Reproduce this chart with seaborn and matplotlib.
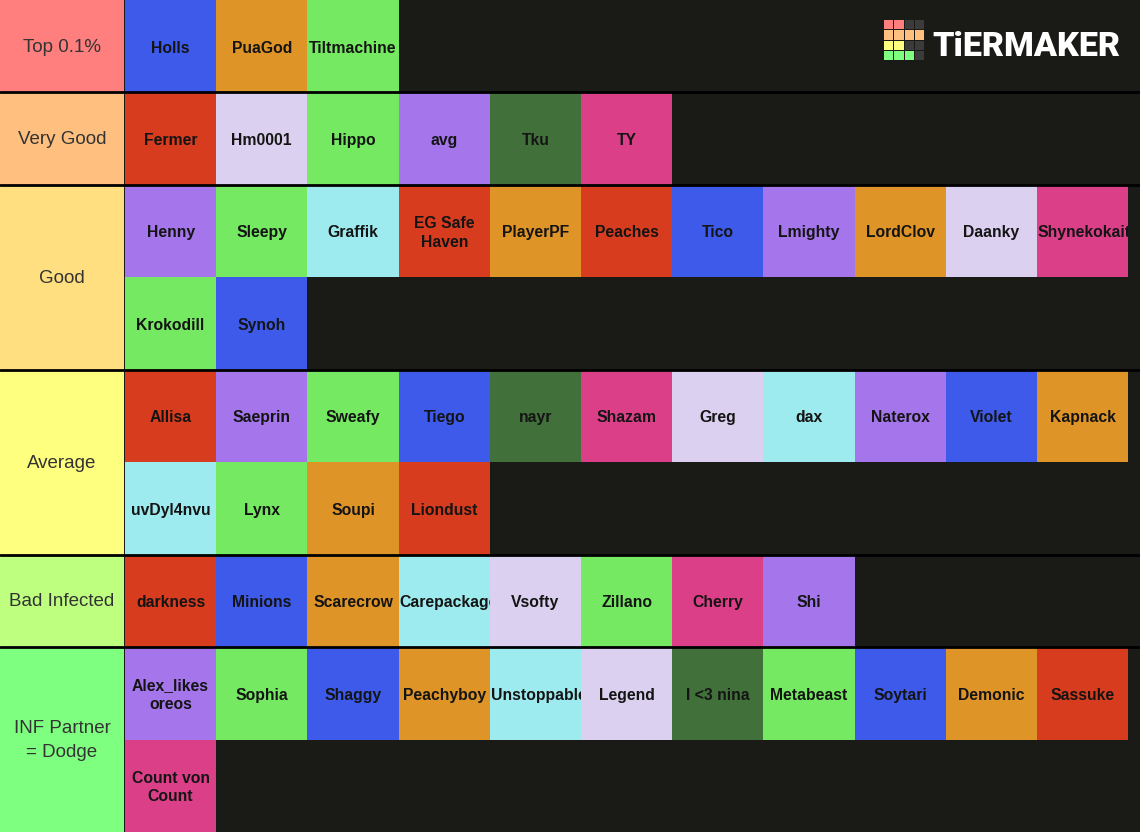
import numpy as np
import matplotlib
matplotlib.use('Agg')
import matplotlib.pyplot as plt
from matplotlib.colors import ListedColormap
from matplotlib.patches import Rectangle
import seaborn as sns

# Tiers
tiers = ['Top 0.1%', 'Very Good', 'Good', 'Average', 'Bad Infected', 'INF Partner\n= Dodge']
tier_colors = ['#ff7f7f', '#ffbf7f', '#ffdf7f', '#ffff7f', '#bfff7f', '#7fff7f']
tier_rows = [1, 1, 2, 2, 1, 2]

# Item colours
palette = {
    'blue': '#3d5aea', 'orange': '#df9428', 'green': '#74e961', 'red': '#d83c1f',
    'lavender': '#dbd0ef', 'purple': '#a475eb', 'darkgreen': '#42703a',
    'pink': '#da3f87', 'cyan': '#9debee',
}

top_names = ['Holls', 'PuaGod', 'Tiltmachine']
top_cols = ['blue', 'orange', 'green']

verygood_names = ['Fermer', 'Hm0001', 'Hippo', 'avg', 'Tku', 'TY']
verygood_cols = ['red', 'lavender', 'green', 'purple', 'darkgreen', 'pink']

good_names = ['Henny', 'Sleepy', 'Graffik', 'EG Safe\nHaven', 'PlayerPF', 'Peaches', 'Tico',
              'Lmighty', 'LordClov', 'Daanky', 'Shynekokait', 'Krokodill', 'Synoh']
good_cols = ['purple', 'green', 'cyan', 'red', 'orange', 'red', 'blue',
             'purple', 'orange', 'lavender', 'pink', 'green', 'blue']

average_names = ['Allisa', 'Saeprin', 'Sweafy', 'Tiego', 'nayr', 'Shazam', 'Greg', 'dax',
                 'Naterox', 'Violet', 'Kapnack', 'uvDyl4nvu', 'Lynx', 'Soupi', 'Liondust']
average_cols = ['red', 'purple', 'green', 'blue', 'darkgreen', 'pink', 'lavender', 'cyan',
                'purple', 'blue', 'orange', 'cyan', 'green', 'orange', 'red']

bad_names = ['darkness', 'Minions', 'Scarecrow', 'Carepackage', 'Vsofty', 'Zillano', 'Cherry', 'Shi']
bad_cols = ['red', 'blue', 'orange', 'cyan', 'lavender', 'green', 'pink', 'purple']

inf_names = ['Alex_likes\noreos', 'Sophia', 'Shaggy', 'Peachyboy', 'Unstoppable', 'Legend',
             'I <3 nina', 'Metabeast', 'Soytari', 'Demonic', 'Sassuke', 'Count von\nCount']
inf_cols = ['purple', 'green', 'blue', 'orange', 'cyan', 'lavender',
            'darkgreen', 'green', 'blue', 'orange', 'red', 'pink']

tier_items = [(top_names, top_cols), (verygood_names, verygood_cols), (good_names, good_cols),
              (average_names, average_cols), (bad_names, bad_cols), (inf_names, inf_cols)]

# Logo squares (TierMaker mark)
logo_grid = [['#ff7f7f', '#ff7f7f', '#3b3b3b', '#3b3b3b'],
             ['#ffbf7f', '#ffbf7f', '#ffbf7f', '#ffbf7f'],
             ['#ffff7f', '#ffff7f', '#3b3b3b', '#3b3b3b'],
             ['#7fff7f', '#7fff7f', '#7fff7f', '#3b3b3b']]

# Build the item grid
per_row = 11
n_sub = sum(tier_rows)
colour_keys = list(palette)
codes = np.full((n_sub, per_row), np.nan)
annot = np.full((n_sub, per_row), '', dtype=object)
start = 0
for (names, cols), nrows in zip(tier_items, tier_rows):
    for i, (n, c) in enumerate(zip(names, cols)):
        r, k = start + i // per_row, i % per_row
        codes[r, k] = colour_keys.index(c)
        annot[r, k] = n
    start += nrows

sns.set_theme(style='white')
plt.rcParams['font.family'] = ['Liberation Sans', 'DejaVu Sans']

W, H = 1140, 832
label_w = 124
cell_w = 91.2
sub_h = H / n_sub

fig = plt.figure(figsize=(W / 100, H / 100), dpi=100, facecolor='#1a1a17')

# Tier labels
ax = fig.add_axes([0, 0, 1, 1])
ax.set_xlim(0, W)
ax.set_ylim(H, 0)
ax.set_axis_off()
tier_top = np.cumsum([0] + tier_rows[:-1]) * sub_h
tier_h = np.array(tier_rows) * sub_h
ax.bar(0, tier_h, width=label_w, bottom=tier_top, color=tier_colors, align='edge', linewidth=0)
for name, top, h in zip(tiers, tier_top, tier_h):
    ax.text(label_w / 2, top + h / 2 + 1, name, ha='center', va='center',
            fontsize=13.5, color='#333333', linespacing=1.6)
ax.axvline(label_w + 0.5, color='#3a3a3a', lw=0.8)

# Items
ax_grid = fig.add_axes([(label_w + 1) / W, 0, per_row * cell_w / W, 1])
sns.heatmap(codes, mask=np.isnan(codes),
            cmap=ListedColormap([palette[k] for k in colour_keys]),
            vmin=-0.5, vmax=len(colour_keys) - 0.5,
            annot=annot, fmt='', cbar=False, xticklabels=False, yticklabels=False,
            annot_kws=dict(fontsize=11.3, fontweight='bold', color='#141414', linespacing=1.3),
            ax=ax_grid)
ax_grid.set_axis_off()

# overflowing names are left aligned and clipped to their cell
fig.canvas.draw()
renderer = fig.canvas.get_renderer()
for t in ax_grid.texts:
    x, y = t.get_position()
    if t.get_window_extent(renderer).width > cell_w - 2:
        t.set_x(x - 0.49)
        t.set_ha('left')
    t.set_y(y + 0.02)
    t.set_clip_on(True)
    t.set_clip_path(Rectangle((x - 0.5, y - 0.5), 1, 1, transform=ax_grid.transData))

# Tier separators and logo
ax_top = fig.add_axes([0, 0, 1, 1], zorder=5)
ax_top.set_xlim(0, W)
ax_top.set_ylim(H, 0)
ax_top.set_axis_off()
for y in tier_top[1:]:
    ax_top.axhline(y, color='black', lw=2)

sq, pitch = 9.2, 10.4
for r, row in enumerate(logo_grid):
    ax_top.bar([884 + c * pitch for c in range(len(row))], sq, width=sq,
               bottom=20 + r * pitch, color=row, align='edge', linewidth=0)
ax_top.text(932, 56, 'TiERMAKER', ha='left', va='baseline', color='white',
            fontsize=24.5, fontfamily='Roboto', fontweight='black')

fig.savefig('out.png', dpi=100, facecolor=fig.get_facecolor())
